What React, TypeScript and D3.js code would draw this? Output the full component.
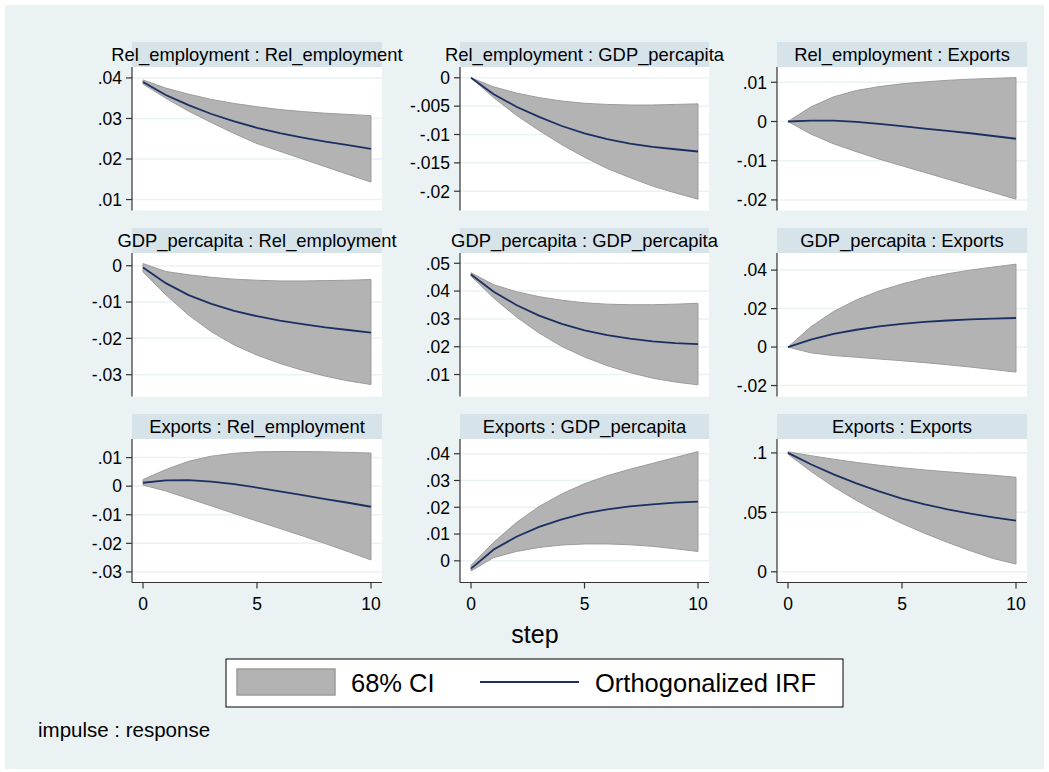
import React, { useEffect, useRef } from "react";
import * as d3 from "d3";

const steps = [0, 1, 2, 3, 4, 5, 6, 7, 8, 9, 10];
const xTicks = [0, 5, 10];
const vars = ["Rel_employment", "GDP_percapita", "Exports"];

// impulse Rel_employment
const irfRelRel = [0.039, 0.0358, 0.0333, 0.0311, 0.0293, 0.0277, 0.0264, 0.0253, 0.0243, 0.0234, 0.0225];
const hiRelRel = [0.0395, 0.0375, 0.036, 0.0347, 0.0337, 0.0329, 0.0322, 0.0317, 0.0313, 0.031, 0.0307];
const loRelRel = [0.0385, 0.035, 0.0318, 0.029, 0.0263, 0.0238, 0.0219, 0.02, 0.0181, 0.0162, 0.0143];

const irfRelGdp = [0, -0.0029, -0.0051, -0.0069, -0.0085, -0.0098, -0.0108, -0.0116, -0.0122, -0.0126, -0.013];
const hiRelGdp = [0, -0.0016, -0.0027, -0.0035, -0.0041, -0.0045, -0.0047, -0.0048, -0.0048, -0.0047, -0.0046];
const loRelGdp = [0, -0.0035, -0.0066, -0.0093, -0.0118, -0.014, -0.016, -0.0176, -0.0191, -0.0203, -0.0214];

const irfRelExp = [0, 0.0002, 0.0002, -0.0001, -0.0006, -0.0012, -0.0018, -0.0024, -0.003, -0.0037, -0.0044];
const hiRelExp = [0, 0.0037, 0.0063, 0.0079, 0.0089, 0.0096, 0.0101, 0.0105, 0.0108, 0.011, 0.0112];
const loRelExp = [0, -0.0032, -0.0057, -0.0077, -0.0096, -0.0113, -0.013, -0.0147, -0.0164, -0.0181, -0.0198];

// impulse GDP_percapita
const irfGdpRel = [-0.0005, -0.0048, -0.0081, -0.0105, -0.0124, -0.0139, -0.0151, -0.0161, -0.017, -0.0177, -0.0184];
const hiGdpRel = [0.0006, -0.0016, -0.0025, -0.0032, -0.0037, -0.004, -0.0042, -0.0042, -0.0041, -0.004, -0.0038];
const loGdpRel = [-0.0017, -0.008, -0.0136, -0.0182, -0.0218, -0.0246, -0.0269, -0.0288, -0.0304, -0.0317, -0.0327];

const irfGdpGdp = [0.046, 0.0398, 0.035, 0.0312, 0.0282, 0.0259, 0.0242, 0.0229, 0.0219, 0.0213, 0.0209];
const hiGdpGdp = [0.0466, 0.0423, 0.0398, 0.038, 0.0367, 0.0358, 0.0353, 0.0351, 0.0351, 0.0353, 0.0356];
const loGdpGdp = [0.0454, 0.0375, 0.0307, 0.0249, 0.0201, 0.0163, 0.0132, 0.0107, 0.0087, 0.0073, 0.0063];

const irfGdpExp = [0, 0.0039, 0.0068, 0.009, 0.0108, 0.0121, 0.0131, 0.0138, 0.0144, 0.0148, 0.0151];
const hiGdpExp = [0, 0.0105, 0.0185, 0.0245, 0.0292, 0.0328, 0.0358, 0.0381, 0.04, 0.0416, 0.0431];
const loGdpExp = [0, -0.003, -0.0044, -0.0053, -0.0062, -0.0071, -0.0081, -0.0092, -0.0104, -0.0117, -0.013];

// impulse Exports
const irfExpRel = [0.0012, 0.002, 0.0021, 0.0016, 0.0007, -0.0005, -0.0018, -0.0031, -0.0045, -0.0058, -0.0072];
const hiExpRel = [0.0023, 0.0058, 0.0087, 0.0105, 0.0115, 0.012, 0.0121, 0.0121, 0.012, 0.0118, 0.0116];
const loExpRel = [0.0004, -0.0017, -0.0043, -0.0069, -0.0096, -0.0122, -0.0148, -0.0174, -0.0201, -0.0229, -0.0258];

const irfExpGdp = [-0.0029, 0.0042, 0.009, 0.0127, 0.0155, 0.0177, 0.0192, 0.0203, 0.0211, 0.0217, 0.0221];
const hiExpGdp = [-0.0017, 0.0069, 0.0143, 0.0203, 0.025, 0.0288, 0.0318, 0.0342, 0.0364, 0.0386, 0.0408];
const loExpGdp = [-0.0038, 0.0012, 0.0035, 0.005, 0.0059, 0.0063, 0.0063, 0.006, 0.0054, 0.0045, 0.0035];

const irfExpExp = [0.1, 0.0905, 0.082, 0.0744, 0.0676, 0.0616, 0.0568, 0.0526, 0.049, 0.0458, 0.043];
const hiExpExp = [0.101, 0.0977, 0.0947, 0.092, 0.0896, 0.0875, 0.0857, 0.0841, 0.0826, 0.0812, 0.0795];
const loExpExp = [0.099, 0.0845, 0.0715, 0.06, 0.0498, 0.0406, 0.0323, 0.0247, 0.0177, 0.0112, 0.0065];

// y tick values and axis ranges, row by row
const yTicks = [
  [0.01, 0.02, 0.03, 0.04], [0, -0.005, -0.01, -0.015, -0.02], [0.01, 0, -0.01, -0.02],
  [0, -0.01, -0.02, -0.03], [0.01, 0.02, 0.03, 0.04, 0.05], [-0.02, 0, 0.02, 0.04],
  [0.01, 0, -0.01, -0.02, -0.03], [0, 0.01, 0.02, 0.03, 0.04], [0, 0.05, 0.1],
];
const yRanges = [
  [0.0073, 0.0427], [-0.0234, 0.0019], [-0.0227, 0.0139],
  [-0.036, 0.0035], [0.0021, 0.0537], [-0.0257, 0.0489],
  [-0.0337, 0.0165], [-0.0081, 0.0455], [-0.009, 0.1117],
];

const irfs = [irfRelRel, irfRelGdp, irfRelExp, irfGdpRel, irfGdpGdp, irfGdpExp, irfExpRel, irfExpGdp, irfExpExp];
const his = [hiRelRel, hiRelGdp, hiRelExp, hiGdpRel, hiGdpGdp, hiGdpExp, hiExpRel, hiExpGdp, hiExpExp];
const los = [loRelRel, loRelGdp, loRelExp, loGdpRel, loGdpGdp, loGdpExp, loExpRel, loExpGdp, loExpExp];

const W = 1049, H = 772;
const font = "'Liberation Sans', Arial, Helvetica, sans-serif";
const bandFill = "#b3b3b3", bandStroke = "#9c9c9c", lineColor = "#1b3062";

function fmt(v: number) {
  if (v === 0) return "0";
  return String(+v.toFixed(4)).replace(/^(-?)0\./, "$1.");
}

export default function App() {
  const ref = useRef<SVGSVGElement>(null);

  useEffect(() => {
    const svg = d3.select(ref.current);
    svg.selectAll("*").remove();

    svg.append("rect").attr("width", W).attr("height", H).attr("fill", "#fff");
    svg.append("rect").attr("x", 5).attr("y", 5).attr("width", W - 10).attr("height", H - 8)
      .attr("fill", "#eaf2f3");

    const colLeft = [132, 460, 777];
    const colW = [250, 249, 250];
    const rowTop = [42, 228, 414];
    const stripH = 25, plotH = 143.5;

    for (let i = 0; i < 9; i++) {
      const r = Math.floor(i / 3), c = i % 3;
      const left = colLeft[c], w = colW[c];
      const top = rowTop[r] + stripH, bottom = top + plotH;
      const g = svg.append("g");

      g.append("rect").attr("x", left).attr("y", rowTop[r]).attr("width", w).attr("height", stripH)
        .attr("fill", "#d6e4ea");
      g.append("text").attr("x", left + w / 2).attr("y", rowTop[r] + 18.5)
        .attr("text-anchor", "middle").style("font-family", font).style("font-size", "18.4px")
        .text(`${vars[r]} : ${vars[c]}`);
      g.append("rect").attr("x", left).attr("y", top).attr("width", w).attr("height", plotH)
        .attr("fill", "#fff");

      const x = d3.scaleLinear().domain([0, 10]).range([left + 11, left + w - 11]);
      const y = d3.scaleLinear().domain(yRanges[i]).range([bottom, top]);

      g.selectAll(".grid").data(yTicks[i]).join("line").attr("class", "grid")
        .attr("x1", left).attr("x2", left + w)
        .attr("y1", d => y(d)).attr("y2", d => y(d))
        .attr("stroke", "#eaf2f3").attr("stroke-width", 1.5);

      const band = d3.area<number>().x(d => x(d)).y0(d => y(los[i][d])).y1(d => y(his[i][d]));
      g.append("path").attr("d", band(steps)).attr("fill", bandFill)
        .attr("stroke", bandStroke).attr("stroke-width", 1);

      const line = d3.line<number>().x(d => x(d)).y(d => y(irfs[i][d]));
      g.append("path").attr("d", line(steps)).attr("fill", "none")
        .attr("stroke", lineColor).attr("stroke-width", 1.8);

      g.append("line").attr("x1", left).attr("x2", left).attr("y1", top).attr("y2", bottom)
        .attr("stroke", "#333").attr("stroke-width", 1.2);
      g.selectAll(".ytick").data(yTicks[i]).join("line").attr("class", "ytick")
        .attr("x1", left - 6).attr("x2", left).attr("y1", d => y(d)).attr("y2", d => y(d))
        .attr("stroke", "#333").attr("stroke-width", 1.2);
      g.selectAll(".ylab").data(yTicks[i]).join("text").attr("class", "ylab")
        .attr("x", left - 10).attr("y", d => y(d)).attr("dy", "0.36em")
        .attr("text-anchor", "end").style("font-family", font).style("font-size", "17.5px")
        .text(d => fmt(d));

      if (r === 2) {
        g.append("line").attr("x1", left).attr("x2", left + w).attr("y1", bottom).attr("y2", bottom)
          .attr("stroke", "#333").attr("stroke-width", 1.2);
        g.selectAll(".xtick").data(xTicks).join("line").attr("class", "xtick")
          .attr("x1", d => x(d)).attr("x2", d => x(d)).attr("y1", bottom).attr("y2", bottom + 6)
          .attr("stroke", "#333").attr("stroke-width", 1.2);
        g.selectAll(".xlab").data(xTicks).join("text").attr("class", "xlab")
          .attr("x", d => x(d)).attr("y", bottom + 27.5).attr("text-anchor", "middle")
          .style("font-family", font).style("font-size", "17.5px").text(d => String(d));
      }
    }

    svg.append("text").attr("x", 535).attr("y", 643).attr("text-anchor", "middle")
      .style("font-family", font).style("font-size", "25px").text("step");

    // legend
    const lg = svg.append("g");
    lg.append("rect").attr("x", 226).attr("y", 659).attr("width", 617).attr("height", 48)
      .attr("fill", "#fff").attr("stroke", "#000").attr("stroke-width", 1);
    lg.append("rect").attr("x", 237).attr("y", 669).attr("width", 98).attr("height", 26)
      .attr("fill", bandFill).attr("stroke", bandStroke).attr("stroke-width", 1.5);
    lg.append("text").attr("x", 351).attr("y", 692).style("font-family", font)
      .style("font-size", "25.5px").text("68% CI");
    lg.append("line").attr("x1", 480).attr("x2", 579).attr("y1", 682).attr("y2", 682)
      .attr("stroke", lineColor).attr("stroke-width", 1.8);
    lg.append("text").attr("x", 595).attr("y", 692).style("font-family", font)
      .style("font-size", "25.5px").text("Orthogonalized IRF");

    svg.append("text").attr("x", 38).attr("y", 737).style("font-family", font)
      .style("font-size", "20.5px").text("impulse : response");
  }, []);

  return (
    <svg ref={ref} width={W} height={H} style={{ position: "absolute", left: 0, top: 0 }} />
  );
}
